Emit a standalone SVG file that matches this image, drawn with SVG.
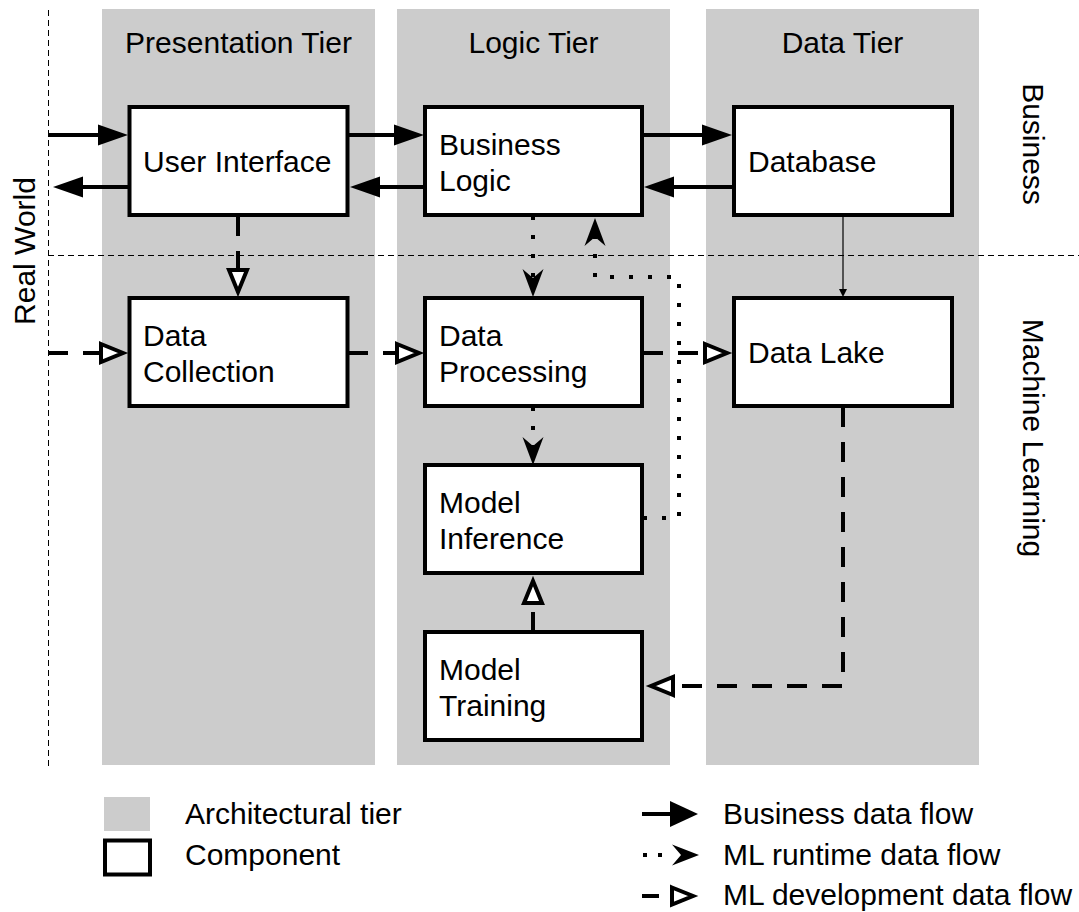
<svg xmlns="http://www.w3.org/2000/svg" width="1079" height="912" viewBox="0 0 1079 912">
<style>
text{font-family:"Liberation Sans",Arial,sans-serif;font-size:30px;fill:#000}
.tier{fill:#cccccc}
.box{fill:#fff;stroke:#000;stroke-width:4}
.biz{fill:none;stroke:#000;stroke-width:4}
.dev{fill:none;stroke:#000;stroke-width:4;stroke-dasharray:20,15}
.run{fill:none;stroke:#000;stroke-width:4;stroke-dasharray:4,15}
.thin{fill:none;stroke:#000;stroke-width:1.2}
.guide{fill:none;stroke:#000;stroke-width:1;stroke-dasharray:6,4}
.mid{text-anchor:middle}
</style>
<defs>
<marker id="mBiz" markerUnits="userSpaceOnUse" markerWidth="32" markerHeight="24" refX="0" refY="0" orient="auto" overflow="visible"><path d="M0,-10.5 L30,0 L0,10.5 z" fill="#000"/></marker>
<marker id="mDev" markerUnits="userSpaceOnUse" markerWidth="32" markerHeight="24" refX="0" refY="0" orient="auto" overflow="visible"><path d="M2,-9 L24,0 L2,9 z" fill="#fff" stroke="#000" stroke-width="4"/></marker>
<marker id="mRun" markerUnits="userSpaceOnUse" markerWidth="32" markerHeight="24" refX="0" refY="0" orient="auto" overflow="visible"><path d="M-9,-10.5 L19,0 L-9,10.5 L0,0 z" fill="#000"/></marker>
<marker id="mThin" markerUnits="userSpaceOnUse" markerWidth="10" markerHeight="10" refX="0" refY="0" orient="auto" overflow="visible"><path d="M0,-4 L8,0 L0,4 z" fill="#000"/></marker>
</defs>
<g id="tiers">
<rect class="tier" x="102" y="9" width="273" height="756"/>
<rect class="tier" x="397" y="9" width="273" height="756"/>
<rect class="tier" x="706" y="9" width="273" height="756"/>
<text class="mid" x="238.5" y="53">Presentation Tier</text>
<text class="mid" x="533.5" y="53">Logic Tier</text>
<text class="mid" x="842.5" y="53">Data Tier</text>
</g>
<g id="guides">
<line class="guide" x1="48.5" y1="10" x2="48.5" y2="770"/>
<line class="guide" x1="48" y1="255.5" x2="1079" y2="255.5"/>
<text class="mid" transform="translate(35,251) rotate(-90)">Real World</text>
<text class="mid" transform="translate(1023,144) rotate(90)">Business</text>
<text class="mid" transform="translate(1023,438) rotate(90)">Machine Learning</text>
</g>
<g id="connectors">
<path class="biz" d="M48,135 H98" marker-end="url(#mBiz)"/>
<path class="biz" d="M128,187 H83" marker-end="url(#mBiz)"/>
<path class="biz" d="M348,135 H394" marker-end="url(#mBiz)"/>
<path class="biz" d="M424,187 H380" marker-end="url(#mBiz)"/>
<path class="biz" d="M642,135 H702" marker-end="url(#mBiz)"/>
<path class="biz" d="M732,187 H674" marker-end="url(#mBiz)"/>
<path class="thin" d="M843,217 V289" marker-end="url(#mThin)"/>
<path class="dev" d="M48,353 H99" marker-end="url(#mDev)"/>
<path class="dev" d="M348,353 H395" marker-end="url(#mDev)"/>
<path class="dev" d="M643,353 H703" marker-end="url(#mDev)"/>
<path class="dev" d="M238,216 V268" marker-end="url(#mDev)"/>
<path class="dev" d="M843,407 V686 H675" marker-end="url(#mDev)"/>
<path class="dev" d="M533,632 V605" marker-end="url(#mDev)"/>
<path class="run" d="M533,216 V278" marker-end="url(#mRun)"/>
<path class="run" d="M533,407 V446" marker-end="url(#mRun)"/>
<path class="run" d="M643,518 H679 V277 H595 V237" marker-end="url(#mRun)"/>
</g>
<g id="user-interface">
<rect class="box" x="129.5" y="107" width="218" height="108"/>
<text x="143" y="172">User Interface</text>
</g>
<g id="business-logic">
<rect class="box" x="425" y="107" width="217" height="108"/>
<text x="439" y="155">Business</text>
<text x="439" y="191">Logic</text>
</g>
<g id="database">
<rect class="box" x="734" y="107" width="218" height="108"/>
<text x="748" y="172">Database</text>
</g>
<g id="data-collection">
<rect class="box" x="129.5" y="298" width="218" height="108"/>
<text x="143" y="346">Data</text>
<text x="143" y="382">Collection</text>
</g>
<g id="data-processing">
<rect class="box" x="425" y="298" width="217" height="108"/>
<text x="439" y="346">Data</text>
<text x="439" y="382">Processing</text>
</g>
<g id="data-lake">
<rect class="box" x="734" y="298" width="218" height="108"/>
<text x="748" y="363">Data Lake</text>
</g>
<g id="model-inference">
<rect class="box" x="425" y="465" width="217" height="108"/>
<text x="439" y="513">Model</text>
<text x="439" y="549">Inference</text>
</g>
<g id="model-training">
<rect class="box" x="425" y="632" width="217" height="108"/>
<text x="439" y="680">Model</text>
<text x="439" y="716">Training</text>
</g>
<g id="legend">
<rect class="tier" x="104" y="797" width="46" height="34"/>
<text x="185" y="824">Architectural tier</text>
<rect class="box" x="105" y="840.5" width="45" height="34" stroke-width="4.5"/>
<text x="185" y="865">Component</text>
<line x1="642" y1="814" x2="672" y2="814" stroke="#000" stroke-width="4"/>
<path d="M670,801 L698,814 L670,827 z" fill="#000"/>
<text x="723" y="824">Business data flow</text>
<rect x="643" y="853" width="4" height="4" fill="#000"/>
<rect x="658" y="853" width="4" height="4" fill="#000"/>
<path d="M672,844.5 L699,855 L672,865.5 L681,855 z" fill="#000"/>
<text x="723" y="865">ML runtime data flow</text>
<line x1="642" y1="896" x2="659" y2="896" stroke="#000" stroke-width="4"/>
<path d="M672,887.5 L693,896 L672,904.5 z" fill="#fff" stroke="#000" stroke-width="4"/>
<text x="723" y="905">ML development data flow</text>
</g>
</svg>
